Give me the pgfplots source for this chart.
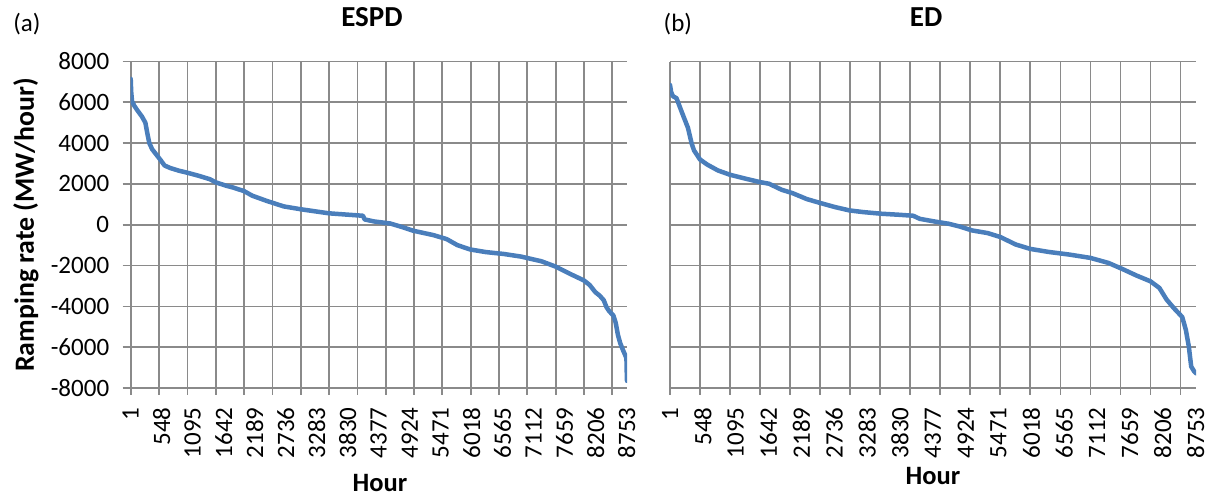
\documentclass[border=0pt]{standalone}
\usepackage{fontspec}
\setmainfont{Carlito}
\usepackage{pgfplots}
\pgfplotsset{compat=1.18}

\definecolor{serieblue}{HTML}{4A7EBB}
\definecolor{gridgray}{HTML}{8A8A8A}

% shared look of the two duration-curve panels
\pgfplotsset{
  rampstyle/.style={
    scale only axis, anchor=south west,
    height=326.5pt,
    xmin=1, xmax=8760, ymin=-8000, ymax=8000,
    axis x line=bottom, axis y line=left,
    axis line style={gridgray, line width=1.7pt, -},
    xtick={1,548,1095,1642,2189,2736,3283,3830,4377,4924,5471,6018,6565,7112,7659,8206,8753},
    minor xtick={1,501,1001,1501,2001,2501,3001,3501,4001,4501,5001,5501,6001,6501,7001,7501,8001,8501},
    ytick={-8000,-6000,-4000,-2000,0,2000,4000,6000,8000},
    xmajorgrids=false, xminorgrids=true, ymajorgrids=true,
    grid style={gridgray, line width=1.7pt},
    minor grid style={gridgray, line width=1.7pt},
    tick align=outside,
    major tick length=8pt, minor tick length=7pt,
    tick style={gridgray, line width=1.7pt},
    major x tick style={draw=none},
    xticklabel style={rotate=90, anchor=east},
    xticklabel shift=8pt,
    yticklabel style={xshift=-10pt},
    /pgf/number format/assume math mode=true,
    /pgf/number format/set thousands separator={},
    tick label style={font=\fontsize{25}{30}\selectfont},
    label style={font=\bfseries\fontsize{26.5}{30}\selectfont},
    title style={font=\bfseries\fontsize{29}{33}\selectfont, anchor=base},
    clip mode=individual,
  },
  rampline/.style={serieblue, line width=4.5pt, line join=round, line cap=round, no marks},
}

\begin{document}
\begin{tikzpicture}
\useasboundingbox (0pt,0pt) rectangle (1208pt,497pt);

% (a) ESPD
\begin{axis}[rampstyle,
  at={(130.7pt,109pt)}, width=496.3pt,
  title={ESPD}, title style={at={(axis description cs:0.486,1.0894)}},
  xlabel={Hour}, xlabel style={at={(axis description cs:0.502,-0.3176)}, anchor=base},
  ylabel={Ramping rate (MW/hour)},
  ylabel style={at={(axis description cs:-0.211,0.5)}, anchor=center, font=\bfseries\fontsize{27.8}{32}\selectfont},
]
\addplot[rampline] coordinates {
(1,7150) (10,6500) (25,6050) (60,5850) (120,5600) (200,5300) (260,5000)
(300,4400) (330,4000) (380,3700) (450,3450) (520,3200) (600,2900) (700,2780)
(850,2650) (1000,2550) (1200,2400) (1400,2230) (1500,2080) (1700,1900)
(1800,1830) (2000,1650) (2150,1420) (2400,1170) (2700,900) (3000,760)
(3200,680) (3500,560) (3800,500) (4100,440) (4130,260) (4300,160)
(4577,65) (4812,-130) (4988,-294) (5341,-506) (5577,-702) (5767,-1000)
(5990,-1210) (6270,-1340) (6580,-1430) (6890,-1560) (7250,-1790) (7500,-2050)
(7750,-2400) (8000,-2730) (8100,-2950) (8200,-3300) (8280,-3480) (8350,-3700)
(8400,-4050) (8450,-4250) (8520,-4450) (8560,-4800) (8600,-5400) (8640,-5800)
(8690,-6150) (8730,-6400) (8750,-6550) (8756,-7300) (8760,-7650)
};
\node[anchor=base, font=\fontsize{25}{30}\selectfont] at (axis description cs:-0.209,1.0912) {(a)};
\end{axis}

% (b) ED
\begin{axis}[rampstyle,
  at={(670pt,109pt)}, width=526pt,
  yticklabels={}, major y tick style={draw=none},
  title={ED}, title style={at={(axis description cs:0.487,1.0894)}},
  xlabel={Hour}, xlabel style={at={(axis description cs:0.5,-0.297)}, anchor=base},
]
\addplot[rampline] coordinates {
(1,6850) (20,6500) (50,6300) (110,6200) (200,5500) (300,4750) (360,4000)
(400,3650) (500,3200) (620,2950) (800,2660) (1000,2450) (1270,2250)
(1500,2090) (1650,2010) (1860,1714) (2040,1550) (2280,1257) (2510,1060)
(2750,865) (2990,702) (3220,620) (3520,540) (3810,490) (4050,441)
(4160,290) (4400,163) (4640,49) (4820,-82) (5030,-278) (5290,-408)
(5500,-600) (5760,-970) (6000,-1183) (6300,-1330) (6650,-1461) (7000,-1624)
(7300,-1869) (7530,-2163) (7770,-2490) (8000,-2770) (8150,-3095) (8270,-3667)
(8390,-4082) (8530,-4520) (8590,-5140) (8640,-5960) (8680,-6950) (8730,-7190)
(8760,-7280)
};
\node[anchor=base, font=\fontsize{25}{30}\selectfont] at (axis description cs:0.015,1.0912) {(b)};
\end{axis}
\end{tikzpicture}
\end{document}
